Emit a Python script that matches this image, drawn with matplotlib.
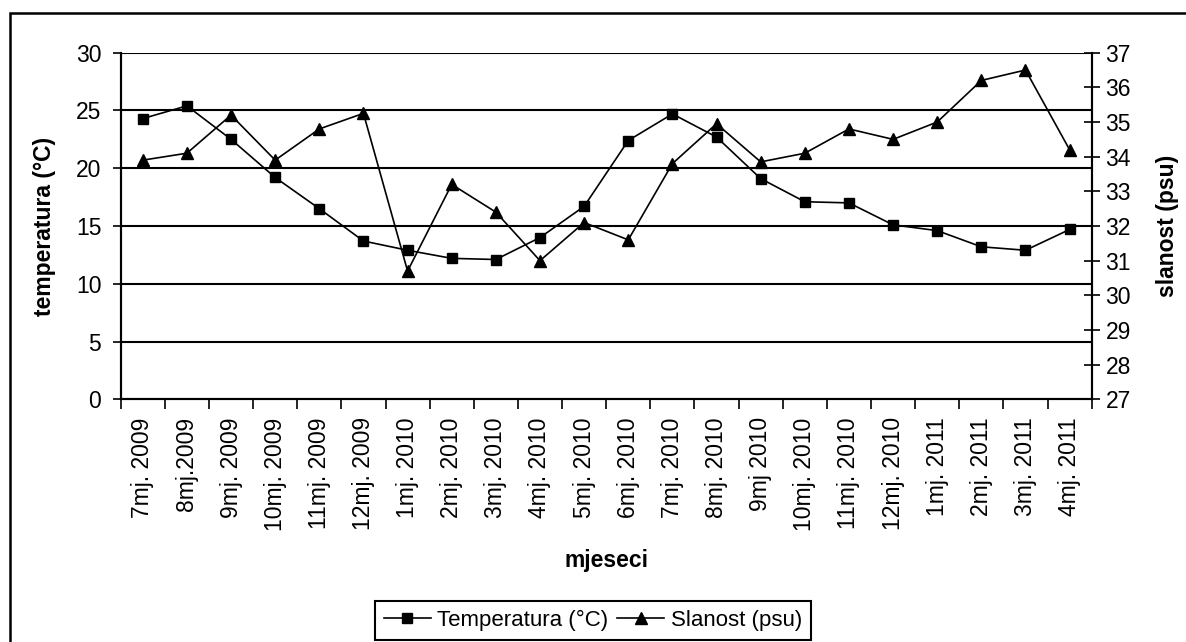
import numpy as np
import matplotlib
matplotlib.use("Agg")
import matplotlib.pyplot as plt
from matplotlib.patches import Rectangle

plt.rcParams['font.family'] = ['Liberation Sans', 'DejaVu Sans']

months = ["7mj. 2009", "8mj.2009", "9mj. 2009", "10mj. 2009", "11mj. 2009",
          "12mj. 2009", "1mj. 2010", "2mj. 2010", "3mj. 2010", "4mj. 2010",
          "5mj. 2010", "6mj. 2010", "7mj. 2010", "8mj. 2010", "9mj 2010",
          "10mj. 2010", "11mj. 2010", "12mj. 2010", "1mj. 2011", "2mj. 2011",
          "3mj. 2011", "4mj. 2011"]
temperatura = [24.3, 25.4, 22.5, 19.2, 16.5, 13.7, 12.9, 12.2, 12.1, 14.0, 16.7,
               22.4, 24.7, 22.7, 19.1, 17.1, 17.0, 15.1, 14.6, 13.2, 12.9, 14.7]
slanost = [33.9, 34.1, 35.2, 33.9, 34.8, 35.25, 30.7, 33.2, 32.4, 31.0, 32.1,
           31.6, 33.8, 34.95, 33.85, 34.1, 34.8, 34.5, 35.0, 36.2, 36.5, 34.2]

FS = 16.5
W, H = 1186, 642
fig = plt.figure(figsize=(W / 100, H / 100), dpi=100)
ax = fig.add_axes([120.7 / W, 1 - 399.3 / H, (1091.7 - 120.7) / W, (399.3 - 52.7) / H])
ax2 = ax.twinx()

x = np.arange(len(months))
l1, = ax.plot(x, temperatura, color='black', lw=1.2, marker='s', ms=7,
              label='Temperatura (°C)')
l2, = ax2.plot(x, slanost, color='black', lw=1.2, marker='^', ms=8.5,
               label='Slanost (psu)')

ax.set_xlim(-0.5, len(months) - 0.5)
ax.set_ylim(0, 30)
ax2.set_ylim(27, 37)
ax.set_yticks(np.arange(0, 31, 5))
ax2.set_yticks(np.arange(27, 38, 1))

for y in np.arange(5, 31, 5):
    ax.axhline(y, color='black', lw=1.5, zorder=0)

ax.set_xticks(x)
ax.set_xticklabels(months, rotation=90)
ax.set_xticks(np.arange(-0.5, len(months), 1), minor=True)
ax.tick_params(axis='x', which='major', length=0, labelsize=FS, pad=13)
ax.tick_params(axis='x', which='minor', length=7, width=1.2, direction='out')
ax.tick_params(axis='y', length=6, width=1.2, direction='out', labelsize=FS, pad=8)
ax2.tick_params(axis='y', length=12, width=1.2, direction='inout', labelsize=FS, pad=4)

for a in (ax, ax2):
    a.spines['top'].set_visible(False)
    for s in ('left', 'right', 'bottom'):
        a.spines[s].set_linewidth(1.5)

ax.set_xlabel('mjeseci', fontsize=FS, fontweight='bold', labelpad=13)
ax.set_ylabel('temperatura (°C)', fontsize=FS, fontweight='bold', labelpad=14)
ax2.set_ylabel('slanost (psu)', fontsize=FS, fontweight='bold', labelpad=18)

leg = fig.legend(handles=[l1, l2], loc='upper left', ncol=2,
                 bbox_to_anchor=(375 / W, 1 - 601 / H), fontsize=16,
                 fancybox=False, edgecolor='black', framealpha=1,
                 handlelength=2.1, columnspacing=0.4, handletextpad=0.3,
                 borderaxespad=0, borderpad=0.4)
leg.get_frame().set_linewidth(1.5)

fig.patches.append(Rectangle((10 / W, -0.2), 1.2, 1.2 - 13 / H,
                             transform=fig.transFigure, fill=False,
                             edgecolor='black', lw=1.8))

fig.savefig('out.png', dpi=100)
